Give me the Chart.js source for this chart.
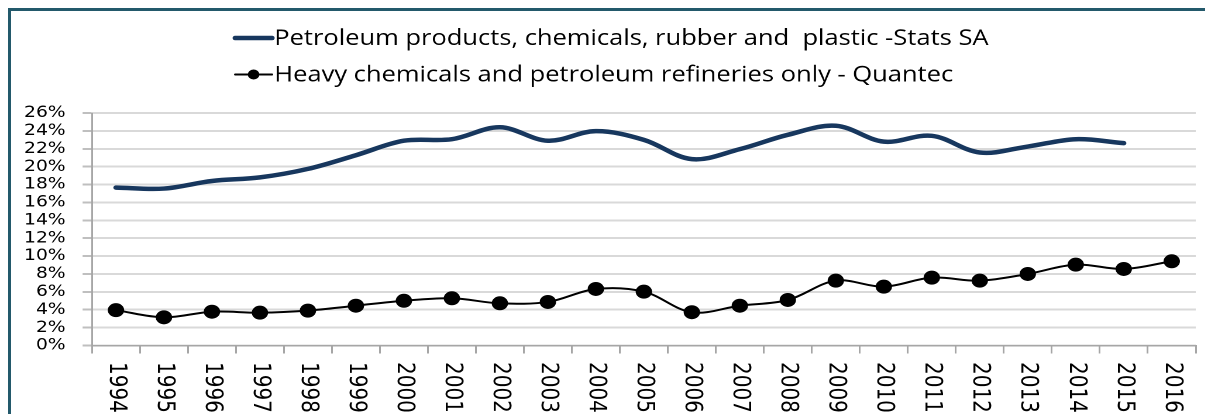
<!DOCTYPE html>
<html>
<head>
<meta charset="utf-8">
<script src="https://cdn.jsdelivr.net/npm/chart.js@4.4.1/dist/chart.umd.min.js"></script>
<style>
  html, body { margin: 0; padding: 0; background: #fff; overflow: hidden; }
  body { width: 1205px; height: 414px; position: relative; }
  #wrap {
    position: absolute; left: 0; top: 0;
    width: 1030px; height: 414px;
    transform: scaleX(1.17); transform-origin: 0 0;
  }
  #frame {
    position: absolute; left: 8px; top: 8px;
    width: 1210px; height: 420px;
    border-left: 3px solid #23596b; border-top: 3px solid #23596b;
    pointer-events: none;
  }
</style>
</head>
<body>
<div id="wrap"><canvas id="shareChart"></canvas></div>
<div id="frame"></div>
<script>
const years = ['1994','1995','1996','1997','1998','1999','2000','2001','2002','2003','2004','2005',
               '2006','2007','2008','2009','2010','2011','2012','2013','2014','2015','2016'];

// share of manufacturing, %
const statsSA = [17.66, 17.55, 18.4, 18.8, 19.75, 21.28, 22.9, 23.07, 24.4, 22.9, 23.97, 23.0,
                 20.84, 21.96, 23.56, 24.57, 22.8, 23.45, 21.58, 22.25, 23.07, 22.63, null];
const quantec = [3.95, 3.15, 3.78, 3.67, 3.9, 4.45, 5.0, 5.28, 4.72, 4.87, 6.32, 6.02,
                 3.72, 4.45, 5.09, 7.25, 6.58, 7.59, 7.25, 8.0, 9.04, 8.56, 9.42];

const seriesNames = ['Petroleum products, chemicals, rubber and  plastic -Stats SA',
                     'Heavy chemicals and petroleum refineries only - Quantec'];

const NAVY = '#17375e';

// year labels run top-to-bottom under each category
const yearLabels = {
  id: 'yearLabels',
  afterDraw(chart) {
    const { ctx, chartArea } = chart;
    const xs = chart.scales.x;
    ctx.save();
    ctx.font = '20px "DejaVu Sans"';
    ctx.fillStyle = '#000';
    ctx.textAlign = 'left';
    ctx.textBaseline = 'middle';
    years.forEach((yr, i) => {
      ctx.save();
      ctx.translate(xs.getPixelForTick(i), chartArea.bottom + 16.5);
      ctx.rotate(Math.PI / 2);
      ctx.fillText(yr, 0, 0);
      ctx.restore();
    });
    ctx.restore();
  }
};

// two stacked legend rows, left aligned
const legendRows = {
  id: 'legendRows',
  afterDraw(chart) {
    const ctx = chart.ctx;
    const rowY = [38, 74.5];
    const x0 = 201, x1 = 232.5, tx = 234.4;
    ctx.save();
    ctx.font = '21.8px "Open Sans"';
    ctx.textBaseline = 'middle';
    ctx.textAlign = 'left';
    chart.data.datasets.forEach((ds, i) => {
      const y = rowY[i];
      ctx.strokeStyle = ds.borderColor;
      ctx.lineWidth = ds.borderWidth;
      ctx.lineCap = 'round';
      ctx.beginPath();
      ctx.moveTo(x0, y);
      ctx.lineTo(x1, y);
      ctx.stroke();
      if (ds.pointRadius > 0) {
        ctx.fillStyle = ds.pointBackgroundColor;
        ctx.beginPath();
        ctx.arc((x0 + x1) / 2, y, ds.pointRadius - 1, 0, Math.PI * 2);
        ctx.fill();
      }
      ctx.fillStyle = '#000';
      ctx.fillText(ds.label, tx, y + 1);
    });
    ctx.restore();
  }
};

new Chart(document.getElementById('shareChart'), {
  type: 'line',
  data: {
    labels: years,
    datasets: [
      {
        label: seriesNames[0],
        data: statsSA,
        borderColor: NAVY,
        borderWidth: 4.5,
        pointRadius: 0,
        tension: 0.35,
        borderCapStyle: 'round'
      },
      {
        label: seriesNames[1],
        data: quantec,
        borderColor: '#000',
        borderWidth: 2,
        pointRadius: 6,
        pointBackgroundColor: '#000',
        pointBorderColor: '#000',
        tension: 0.35
      }
    ]
  },
  options: {
    responsive: true,
    maintainAspectRatio: false,
    animation: false,
    devicePixelRatio: 2,
    layout: { padding: { top: 113, right: 6.9, left: 0, bottom: 0 } },
    plugins: { legend: { display: false }, tooltip: { enabled: false } },
    scales: {
      x: {
        offset: true,
        afterFit: s => { s.height = 68.5; },
        grid: { offset: true, drawOnChartArea: false, drawTicks: true, tickLength: 8, color: '#a6a6a6', lineWidth: 1.5 },
        border: { color: '#a6a6a6', width: 1.5 },
        ticks: { display: false }
      },
      y: {
        min: 0, max: 26,
        afterFit: s => { s.width = 78.6; },
        grid: { color: '#d9d9d9', lineWidth: 2, tickLength: 8, tickColor: '#bfbfbf' },
        border: { color: '#a6a6a6', width: 1.5 },
        ticks: {
          stepSize: 2,
          autoSkip: false,
          padding: 14.5,
          color: '#000',
          font: { family: 'DejaVu Sans', size: 16, lineHeight: 1 },
          callback: v => v + '%'
        }
      }
    }
  },
  plugins: [yearLabels, legendRows]
});
</script>
</body>
</html>
